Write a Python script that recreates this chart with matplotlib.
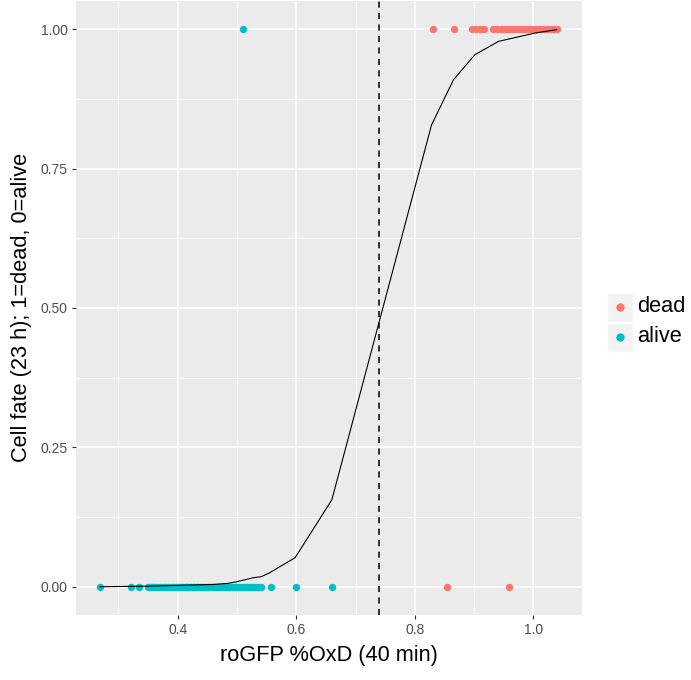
import numpy as np
import matplotlib
matplotlib.use("Agg")
import matplotlib.pyplot as plt
from matplotlib.patches import Rectangle

# --- data ---
alive_x = [0.269, 0.322, 0.335, 0.350, 0.353, 0.356, 0.359, 0.361, 0.364, 0.367,
           0.370, 0.372, 0.375, 0.378, 0.381, 0.383, 0.386, 0.389, 0.392, 0.394,
           0.397, 0.399, 0.402, 0.404, 0.407, 0.409, 0.412, 0.414, 0.416, 0.418,
           0.421, 0.423, 0.426, 0.428, 0.430, 0.432, 0.435, 0.437, 0.439, 0.441,
           0.444, 0.446, 0.449, 0.451, 0.453, 0.455, 0.458, 0.460, 0.463, 0.465,
           0.468, 0.470, 0.472, 0.474, 0.477, 0.479, 0.482, 0.484, 0.487, 0.489,
           0.492, 0.494, 0.497, 0.499, 0.501, 0.503, 0.506, 0.508, 0.511, 0.514,
           0.517, 0.519, 0.522, 0.524, 0.527, 0.529, 0.532, 0.535, 0.538, 0.541,
           0.557, 0.600, 0.660, 0.510]
alive_y = [0] * 83 + [1]

dead_x = [0.830, 0.866, 0.897, 0.903, 0.909, 0.916, 0.932, 0.938, 0.946, 0.951,
          0.956, 0.961, 0.966, 0.971, 0.975, 0.980, 0.985, 0.990, 0.995, 1.000,
          1.005, 1.010, 1.015, 1.020, 1.025, 1.030, 1.035, 1.040, 0.854, 0.959]
dead_y = [1] * 28 + [0, 0]

fit_x = [0.269, 0.350, 0.460, 0.485, 0.500, 0.527, 0.541, 0.555, 0.598, 0.660,
         0.828, 0.865, 0.901, 0.941, 1.003, 1.039]
fit_y = [0.000, 0.001, 0.004, 0.006, 0.009, 0.016, 0.018, 0.025, 0.052, 0.156,
         0.828, 0.909, 0.954, 0.978, 0.993, 0.999]

threshold = 0.74

# --- colours (ggplot defaults) ---
c_dead = "#F8766D"
c_alive = "#00BFC4"

plt.rcParams["font.family"] = ["Liberation Sans", "DejaVu Sans"]

fig = plt.figure(figsize=(6.91, 6.80), dpi=100)
ax = fig.add_axes([0.110, 0.0962, 0.732, 0.902])
ax.set_facecolor("#EBEBEB")

ax.set_xlim(0.2285, 1.0815)
ax.set_ylim(-0.05, 1.05)

ax.set_xticks([0.4, 0.6, 0.8, 1.0])
ax.set_xticklabels(["0.4", "0.6", "0.8", "1.0"])
ax.set_xticks([0.3, 0.5, 0.7, 0.9], minor=True)
ax.set_yticks([0, 0.25, 0.5, 0.75, 1.0])
ax.set_yticklabels(["0.00", "0.25", "0.50", "0.75", "1.00"])
ax.set_yticks([0.125, 0.375, 0.625, 0.875], minor=True)

ax.grid(which="major", color="white", linewidth=1.1)
ax.grid(which="minor", color="white", linewidth=0.55)
ax.set_axisbelow(True)
for s in ax.spines.values():
    s.set_visible(False)

ax.tick_params(which="major", length=3, width=0.8, color="#333333",
               labelcolor="#4D4D4D", labelsize=10, pad=3)
ax.tick_params(which="minor", length=0)

ax.scatter(dead_x, dead_y, s=28, color=c_dead, linewidths=0, zorder=3)
ax.scatter(alive_x, alive_y, s=28, color=c_alive, linewidths=0, zorder=3)
ax.plot(fit_x, fit_y, color="black", linewidth=0.8, zorder=4)
ax.axvline(threshold, color="black", linewidth=1.1, linestyle=(0, (4, 3.5)), zorder=4)

ax.set_xlabel("roGFP %OxD (40 min)", fontsize=15.7, labelpad=6)
ax.set_ylabel("Cell fate (23 h); 1=dead, 0=alive", fontsize=15.7, labelpad=6)

# --- legend (drawn like ggplot's right-hand guide) ---
W, H = 691, 680
keys = [("dead", c_dead, 292), ("alive", c_alive, 322)]
for label, col, top in keys:
    fig.patches.append(Rectangle((607 / W, 1 - (top + 30) / H), 26 / W, 29 / H,
                                 transform=fig.transFigure, facecolor="#F2F2F2",
                                 edgecolor="white", linewidth=1))
    fig.add_artist(plt.Line2D([620 / W], [1 - (top + 15) / H], marker="o",
                              markersize=5, color=col, linestyle="none",
                              transform=fig.transFigure))
    fig.text(637 / W, 1 - (top + 15) / H, label, fontsize=15.7, va="center", ha="left")

fig.savefig("out.png", dpi=100)
